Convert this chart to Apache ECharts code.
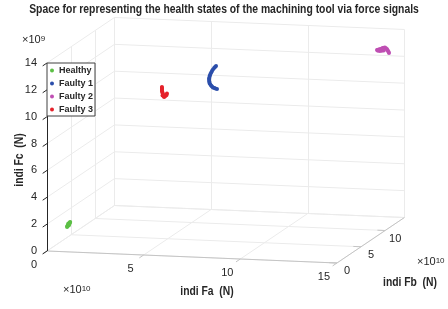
<!DOCTYPE html>
<html lang="en">
<head>
<meta charset="UTF-8" />
<title>Health states</title>
<script src="https://cdn.jsdelivr.net/npm/echarts@6/dist/echarts.min.js"></script>
<style>
  html, body { margin: 0; padding: 0; background: #fff; }
  #main { width: 448px; height: 309px; }
</style>
</head>
<body>
<div id="main"></div>
<script>
  // ticks: Fa, Fb in 1e10 N, Fc in 1e9 N
  var faTicks = [0, 5, 10, 15];
  var fbTicks = [0, 5, 10];
  var fcTicks = [0, 2, 4, 6, 8, 10, 12, 14];
  var faMax = 15, fbMax = 14, fcMax = 14;

  var seriesNames = ["Healthy", "Faulty 1", "Faulty 2", "Faulty 3"];
  var colors = ["#5cbf45", "#2b4eab", "#bf4fb3", "#e5222b"];

  // points as [Fa, Fb, Fc]
  var healthy = [[0.82,1.0,1.70],[0.85,1.0,1.76],[0.88,1.0,1.82],[0.91,1.0,1.88],[0.84,1.05,1.84],
    [0.89,0.95,1.72],[0.80,1.0,1.64],[0.93,1.0,1.94],[0.87,1.1,1.78],[0.95,1.0,1.98],[0.79,1.0,1.60]];
  var faulty1 = [[6.75,8,12.24],[6.70,8,12.17],[6.65,8,12.09],[6.59,8,11.98],[6.54,8,11.86],
    [6.50,8,11.75],[6.46,8,11.63],[6.43,8,11.52],[6.41,8,11.40],[6.39,8,11.29],[6.39,8,11.18],
    [6.40,8,11.07],[6.41,8,10.96],[6.45,8,10.86],[6.49,8,10.77],[6.54,8,10.70],[6.59,8,10.63],
    [6.66,8,10.59],[6.72,8,10.56],[6.80,8,10.53]];
  var faulty2 = [[14.08,12,12.90],[14.13,12,12.92],[14.18,12,12.94],[14.23,12,12.97],[14.28,12,12.99],
    [14.33,12,13.03],[14.38,12,13.07],[14.44,12,13.09],[14.49,12,13.11],[14.54,12,13.06],
    [14.59,12,13.01],[14.62,12,12.94],[14.65,12,12.86],[14.68,12,12.78],[14.70,12,12.71],
    [14.23,12,12.84],[14.33,12,12.86],[14.43,12,12.88],[14.13,12,12.85]];
  var faulty3 = [[4.45,6,11.02],[4.45,6,10.95],[4.45,6,10.88],[4.45,6,10.80],[4.45,6,10.73],
    [4.47,6,10.65],[4.48,6,10.58],[4.50,6,10.50],[4.51,6,10.43],[4.54,6,10.36],[4.56,6,10.29],
    [4.59,6,10.33],[4.61,6,10.36],[4.65,6,10.40],[4.69,6,10.44],[4.71,6,10.56],[4.48,6,10.40]];

  // orthographic view: screen position of origin and one unit along each axis
  var origin = [47, 251];
  var ea = [19.33, 0.8], eb = [4.82, -3.25], ec = [0, -13.43];
  function proj(p) {
    return [origin[0] + p[0] * ea[0] + p[1] * eb[0] + p[2] * ec[0],
            origin[1] + p[0] * ea[1] + p[1] * eb[1] + p[2] * ec[1]];
  }
  function seg(p, q) { return { coords: [proj(p), proj(q)] }; }

  var font = "'Liberation Sans', Arial, sans-serif";
  var ink = "#262626";
  var fbLines = fbTicks.concat([fbMax]);

  // grid on floor, back wall and left wall
  var grid3d = [];
  faTicks.forEach(function (a) {
    grid3d.push(seg([a, 0, 0], [a, fbMax, 0]));
    grid3d.push(seg([a, fbMax, 0], [a, fbMax, fcMax]));
  });
  fbLines.forEach(function (b) {
    grid3d.push(seg([0, b, 0], [faMax, b, 0]));
    grid3d.push(seg([0, b, 0], [0, b, fcMax]));
  });
  fcTicks.forEach(function (c) {
    grid3d.push(seg([0, fbMax, c], [faMax, fbMax, c]));
    grid3d.push(seg([0, 0, c], [0, fbMax, c]));
  });

  var lightAxis = [seg([0, 0, 0], [faMax, 0, 0]), seg([faMax, 0, 0], [faMax, fbMax, 0])];
  faTicks.forEach(function (a) { lightAxis.push(seg([a, 0, 0], [a, -0.9, 0])); });
  fbTicks.forEach(function (b) { lightAxis.push(seg([faMax, b, 0], [faMax - 0.4, b, 0])); });
  var darkAxis = [seg([0, 0, 0], [0, 0, fcMax])];
  fcTicks.forEach(function (c) { darkAxis.push(seg([0, 0, c], [0, -0.9, c])); });

  // tick labels placed from the projected tick positions
  var texts = [];
  function tickLabels(ticks, toPoint, off, align) {
    ticks.forEach(function (t) {
      var p = proj(toPoint(t));
      texts.push({ type: "text", x: p[0] + off[0], y: p[1] + off[1], silent: true,
        style: { text: String(t), font: "11px " + font, fill: ink, align: align, verticalAlign: "middle" } });
    });
  }
  tickLabels(faTicks, function (t) { return [t, 0, 0]; }, [-13, 14], "center");
  tickLabels(fbTicks, function (t) { return [faMax, t, 0]; }, [10, 8], "center");
  tickLabels(fcTicks, function (t) { return [0, 0, t]; }, [-10, 0], "right");

  function expo(x, y, e) {
    return { type: "text", x: x, y: y, silent: true,
      style: { text: "×10{s|" + e + "}", font: "11px " + font, fill: ink, verticalAlign: "middle",
        rich: { s: { fontSize: 8, verticalAlign: "top", fontFamily: font } } } };
  }
  function axisTitle(x, y, s, rot) {
    return { type: "text", x: x, y: y, rotation: rot || 0, scaleX: 0.86, silent: true,
      style: { text: s, font: "bold 12px " + font, fill: ink, align: "center", verticalAlign: "middle" } };
  }
  texts.push(expo(22, 40, 9), expo(63, 290, 10), expo(417, 262, 10));
  texts.push(axisTitle(20, 160, "indi Fc  (N)", Math.PI / 2));
  texts.push(axisTitle(207, 292, "indi Fa  (N)"));
  texts.push(axisTitle(410, 283, "indi Fb  (N)"));
  texts.push({ type: "text", x: 224, y: 10, scaleX: 0.83, silent: true,
    style: { text: "Space for representing the health states of the machining tool via force signals",
      font: "bold 12.5px " + font, fill: ink, align: "center", verticalAlign: "middle" } });

  var dataSets = [healthy, faulty1, faulty2, faulty3];
  var pointSeries = dataSets.map(function (d, i) {
    return {
      name: seriesNames[i], type: "scatter", z: 5,
      symbolSize: 4, itemStyle: { color: colors[i], opacity: 1 },
      data: d.map(proj)
    };
  });

  var chart = echarts.init(document.getElementById("main"));
  chart.setOption({
    animation: false,
    legend: {
      data: seriesNames.map(function (n) { return { name: n, icon: "circle" }; }),
      orient: "vertical", left: 47, top: 63,
      padding: [3, 2, 2, 3], itemGap: 4, itemWidth: 4, itemHeight: 4,
      borderColor: "#404040", borderWidth: 1, borderRadius: 0, backgroundColor: "#fff",
      textStyle: { fontFamily: font, fontSize: 9, fontWeight: "bold", color: ink }
    },
    grid: { left: 0, right: 0, top: 0, bottom: 0 },
    xAxis: { type: "value", min: 0, max: 448, show: false },
    yAxis: { type: "value", min: 0, max: 309, inverse: true, show: false },
    graphic: texts,
    series: [
      { type: "lines", coordinateSystem: "cartesian2d", silent: true, z: 1,
        lineStyle: { color: "#ebebeb", width: 1, opacity: 1 }, data: grid3d },
      { type: "lines", coordinateSystem: "cartesian2d", silent: true, z: 2,
        lineStyle: { color: "#c4c4c4", width: 1, opacity: 1 }, data: lightAxis },
      { type: "lines", coordinateSystem: "cartesian2d", silent: true, z: 2,
        lineStyle: { color: ink, width: 1, opacity: 1 }, data: darkAxis }
    ].concat(pointSeries)
  });
</script>
</body>
</html>
